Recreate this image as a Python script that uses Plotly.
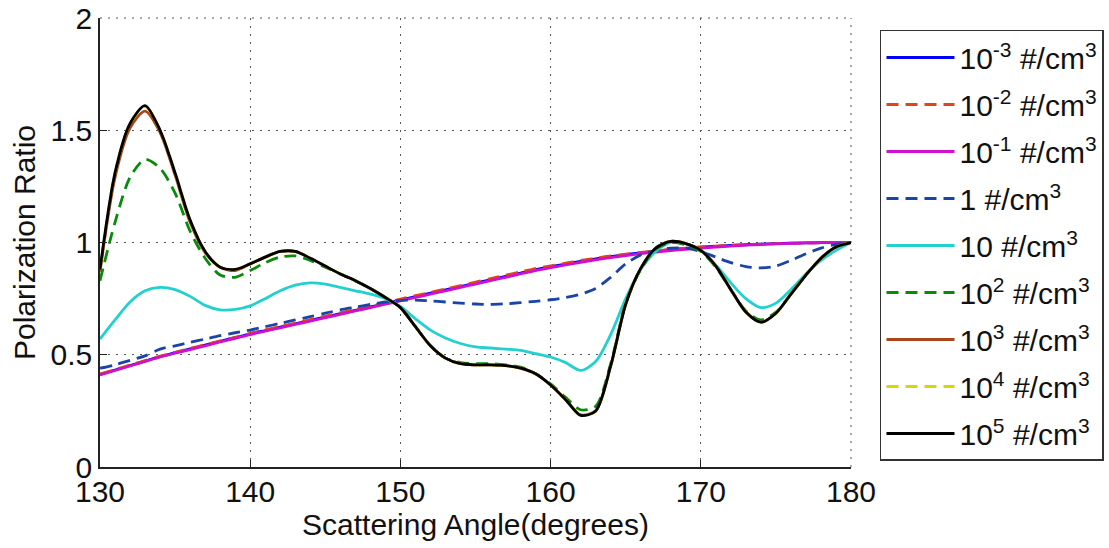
import plotly.graph_objects as go

angle = list(range(130, 181))

# 10^-3 #/cm3
conc_1e_3 = [0.412, 0.432, 0.452, 0.472, 0.492, 0.509, 0.526, 0.543, 0.56, 0.576, 0.593,
             0.608, 0.623, 0.638, 0.653, 0.668, 0.683, 0.698, 0.713, 0.728, 0.744,
             0.759, 0.774, 0.789, 0.804, 0.819, 0.834, 0.849, 0.864, 0.879, 0.892,
             0.904, 0.916, 0.927, 0.937, 0.946, 0.954, 0.961, 0.968, 0.974, 0.979,
             0.983, 0.987, 0.990, 0.993, 0.995, 0.997, 0.998, 0.999, 1.0, 1.0]
# 10^-2 #/cm3
conc_1e_2 = [0.414, 0.434, 0.454, 0.474, 0.494, 0.511, 0.528, 0.545, 0.562, 0.578, 0.595,
             0.611, 0.626, 0.641, 0.657, 0.672, 0.687, 0.702, 0.717, 0.732, 0.748,
             0.763, 0.778, 0.793, 0.808, 0.824, 0.839, 0.854, 0.869, 0.884, 0.896,
             0.908, 0.92, 0.93, 0.94, 0.948, 0.956, 0.963, 0.969, 0.975, 0.98,
             0.984, 0.988, 0.991, 0.993, 0.995, 0.997, 0.998, 0.999, 1.0, 1.0]
# 10^-1 #/cm3
conc_1e_1 = [0.41, 0.43, 0.45, 0.47, 0.49, 0.507, 0.523, 0.54, 0.557, 0.573, 0.59,
             0.605, 0.62, 0.635, 0.65, 0.665, 0.68, 0.695, 0.71, 0.725, 0.74,
             0.755, 0.77, 0.785, 0.80, 0.815, 0.83, 0.845, 0.86, 0.875, 0.888,
             0.90, 0.912, 0.923, 0.933, 0.942, 0.95, 0.957, 0.964, 0.97, 0.975,
             0.98, 0.984, 0.988, 0.991, 0.994, 0.996, 0.998, 0.999, 1.0, 1.0]
# 1 #/cm3
conc_1e0 = [0.44, 0.455, 0.475, 0.495, 0.525, 0.54, 0.555, 0.57, 0.585, 0.598, 0.61,
            0.625, 0.64, 0.655, 0.67, 0.685, 0.70, 0.712, 0.724, 0.735, 0.742,
            0.743, 0.74, 0.735, 0.73, 0.726, 0.724, 0.727, 0.732, 0.738, 0.745,
            0.755, 0.77, 0.795, 0.845, 0.905, 0.945, 0.965, 0.975, 0.975, 0.96,
            0.935, 0.91, 0.893, 0.887, 0.895, 0.92, 0.95, 0.975, 0.992, 1.0]
# 10 #/cm3
conc_1e1 = [0.57, 0.655, 0.735, 0.785, 0.80, 0.79, 0.76, 0.72, 0.70, 0.702, 0.718,
            0.75, 0.785, 0.81, 0.82, 0.815, 0.80, 0.785, 0.77, 0.75, 0.715,
            0.66, 0.61, 0.575, 0.55, 0.535, 0.53, 0.525, 0.52, 0.505, 0.49,
            0.465, 0.43, 0.47, 0.59, 0.75, 0.88, 0.96, 1.0, 0.995, 0.965,
            0.90, 0.82, 0.75, 0.71, 0.73, 0.79, 0.86, 0.92, 0.965, 1.0]
# 10^2 #/cm3
conc_1e2 = [0.83, 1.09, 1.29, 1.37, 1.33, 1.22, 1.05, 0.93, 0.855, 0.845, 0.875,
            0.91, 0.935, 0.94, 0.92, 0.89, 0.86, 0.83, 0.795, 0.755, 0.71,
            0.625, 0.54, 0.485, 0.465, 0.46, 0.46, 0.455, 0.445, 0.415, 0.37,
            0.31, 0.255, 0.27, 0.46, 0.73, 0.88, 0.97, 1.0, 0.99, 0.96,
            0.89, 0.79, 0.695, 0.655, 0.69, 0.77, 0.855, 0.93, 0.98, 1.0]
# 10^3 #/cm3
conc_1e3 = [0.87, 1.29, 1.51, 1.585, 1.49, 1.30, 1.09, 0.955, 0.89, 0.875, 0.905,
            0.935, 0.96, 0.96, 0.93, 0.895, 0.86, 0.83, 0.795, 0.755, 0.71,
            0.625, 0.54, 0.485, 0.46, 0.455, 0.455, 0.452, 0.44, 0.415, 0.365,
            0.30, 0.232, 0.25, 0.45, 0.725, 0.885, 0.975, 1.005, 0.995, 0.965,
            0.895, 0.79, 0.69, 0.645, 0.685, 0.77, 0.855, 0.93, 0.98, 1.0]
# 10^4 #/cm3
conc_1e4 = [0.88, 1.31, 1.53, 1.605, 1.50, 1.31, 1.10, 0.96, 0.89, 0.88, 0.905,
            0.935, 0.96, 0.96, 0.93, 0.895, 0.86, 0.83, 0.795, 0.755, 0.71,
            0.625, 0.54, 0.485, 0.46, 0.455, 0.455, 0.452, 0.44, 0.415, 0.365,
            0.30, 0.23, 0.25, 0.45, 0.725, 0.885, 0.975, 1.005, 0.995, 0.965,
            0.895, 0.79, 0.69, 0.645, 0.685, 0.77, 0.855, 0.93, 0.98, 1.0]
# 10^5 #/cm3
conc_1e5 = [0.88, 1.31, 1.53, 1.61, 1.50, 1.31, 1.10, 0.96, 0.89, 0.88, 0.905,
            0.935, 0.96, 0.96, 0.93, 0.895, 0.86, 0.83, 0.795, 0.755, 0.71,
            0.625, 0.54, 0.485, 0.46, 0.455, 0.455, 0.452, 0.44, 0.415, 0.365,
            0.30, 0.23, 0.25, 0.45, 0.725, 0.885, 0.975, 1.005, 0.995, 0.965,
            0.895, 0.79, 0.69, 0.645, 0.685, 0.77, 0.855, 0.93, 0.98, 1.0]

labels = ["10<sup>-3</sup> #/cm<sup>3</sup>", "10<sup>-2</sup> #/cm<sup>3</sup>",
          "10<sup>-1</sup> #/cm<sup>3</sup>", "1 #/cm<sup>3</sup>",
          "10 #/cm<sup>3</sup>", "10<sup>2</sup> #/cm<sup>3</sup>",
          "10<sup>3</sup> #/cm<sup>3</sup>", "10<sup>4</sup> #/cm<sup>3</sup>",
          "10<sup>5</sup> #/cm<sup>3</sup>"]
series = [conc_1e_3, conc_1e_2, conc_1e_1, conc_1e0, conc_1e1,
          conc_1e2, conc_1e3, conc_1e4, conc_1e5]
colors = ["#0000ff", "#e0441a", "#d010d0", "#1a44a8", "#22d0d0",
          "#0a8a0a", "#a8451a", "#d8d800", "#000000"]
dashes = ["solid", "12px,7px", "solid", "12px,7px", "solid",
          "12px,7px", "solid", "12px,7px", "solid"]

FONT = "Arial, Liberation Sans, sans-serif"

fig = go.Figure()
for i, (lab, ys, c, d) in enumerate(zip(labels, series, colors, dashes)):
    fig.add_trace(go.Scatter(
        x=angle, y=ys, mode="lines", name=lab,
        legendgroup=f"g{i}",
        line=dict(color=c, width=2.8, dash=d, shape="spline", smoothing=0.8),
    ))

axis_common = dict(
    showline=True, linecolor="#222", linewidth=1.5,
    ticks="inside", ticklen=7, tickcolor="#222", tickwidth=1,
    showgrid=True, gridcolor="#555", gridwidth=1, griddash="2px,6px",
    zeroline=False, mirror=False, automargin=False,
    tickfont=dict(family=FONT, size=30, color="#111"),
)

# dotted frame on top and right edges (grid lines at the range ends)
frame_line = dict(color="#555", width=1, dash="2px,6px")
fig.add_shape(type="line", xref="paper", yref="paper", x0=0, x1=1, y0=1, y1=1,
              line=frame_line, layer="below")
fig.add_shape(type="line", xref="paper", yref="paper", x0=1, x1=1, y0=0, y1=1,
              line=frame_line, layer="below")

fig.update_layout(
    width=1109, height=548,
    margin=dict(l=100, r=258, t=18, b=81, autoexpand=False),
    paper_bgcolor="white", plot_bgcolor="white",
    font=dict(family=FONT, color="#111"),
    xaxis=dict(range=[130, 180], tickvals=[130, 140, 150, 160, 170, 180],
               ticklabelstandoff=-3,
               title=dict(text="Scattering Angle(degrees)", font=dict(family=FONT, size=30), standoff=4),
               **axis_common),
    yaxis=dict(range=[0, 2], tickvals=[0, 0.5, 1, 1.5, 2], ticktext=["0", "0.5", "1", "1.5", "2"],
               title=dict(text="Polarization Ratio", font=dict(family=FONT, size=30), standoff=6),
               **axis_common),
    legend=dict(
        x=1.0386, y=0.9733, xanchor="left", yanchor="top",
        bgcolor="white", bordercolor="#333", borderwidth=1.5,
        font=dict(family=FONT, size=30, color="#111"),
        tracegroupgap=5, itemwidth=68,
    ),
)

fig.write_html("out.html")
